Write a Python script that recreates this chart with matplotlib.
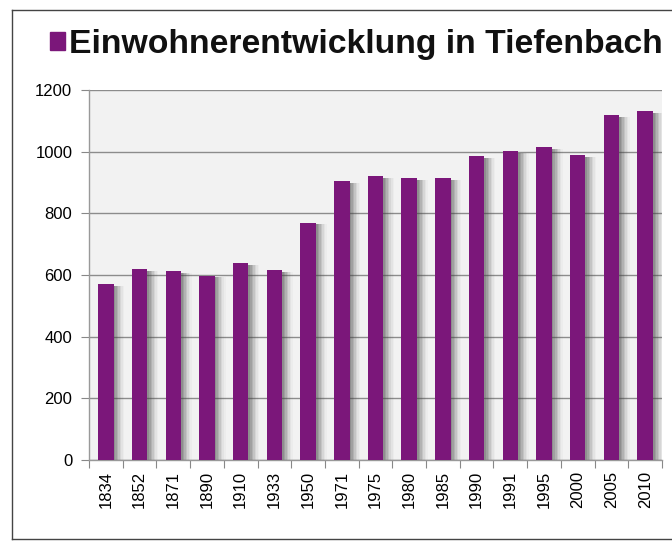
import matplotlib
matplotlib.use("Agg")
import matplotlib.pyplot as plt
from matplotlib.patches import Rectangle
from matplotlib.lines import Line2D
import numpy as np

years = ["1834", "1852", "1871", "1890", "1910", "1933", "1950", "1971", "1975",
         "1980", "1985", "1990", "1991", "1995", "2000", "2005", "2010"]
population = [571, 620, 613, 598, 638, 616, 770, 906, 921,
              914, 913, 986, 1001, 1016, 988, 1120, 1133]
yticks = [0, 200, 400, 600, 800, 1000, 1200]

W, H = 672, 541
fig = plt.figure(figsize=(W / 100, H / 100), dpi=100)
fig.patch.set_facecolor("white")

ax = fig.add_axes([89 / W, 1 - 460 / H, (662 - 89) / W, (460 - 90) / H])
ax.set_facecolor("#f2f2f2")

x = np.arange(len(years))
bw = 0.46
# soft shadow
for k, a in enumerate([0.18, 0.16, 0.14, 0.11, 0.08, 0.05, 0.03]):
    off = 0.05 + 0.045 * k
    ax.bar(x + off, [p - 6 for p in population], width=bw, color="#444444",
           alpha=a, zorder=2, linewidth=0)
ax.bar(x, population, width=bw, color="#7b177a", zorder=3, linewidth=0)

ax.set_xlim(-0.5, len(years) - 0.5)
ax.set_ylim(0, 1200)
ax.set_yticks(yticks)
ax.set_yticklabels([str(v) for v in yticks], fontsize=12, family="Liberation Sans")
ax.set_xticks(np.arange(len(years) + 1) - 0.5, minor=False)
ax.set_xticklabels([""] * (len(years) + 1))
ax.set_xticks(x, minor=True)
ax.set_xticklabels(years, minor=True, rotation=90, fontsize=12, family="Liberation Sans")
ax.tick_params(axis="x", which="minor", length=0, pad=8)
ax.tick_params(axis="x", which="major", length=6, color="#888888", direction="out")
ax.tick_params(axis="y", length=6, color="#888888", direction="out", pad=6)

ax.yaxis.grid(True, color="#8c8c8c", linewidth=1.0, zorder=1)
ax.set_axisbelow(True)
for s in ["top", "right"]:
    ax.spines[s].set_visible(False)
for s in ["left", "bottom"]:
    ax.spines[s].set_color("#999999")
    ax.spines[s].set_linewidth(1.0)

# title with purple square
fig.patches.append(Rectangle((50 / W, 1 - 50 / H), 15 / W, 18 / H,
                             transform=fig.transFigure, color="#7b177a"))
fig.text(69 / W, 1 - 53 / H, "Einwohnerentwicklung in Tiefenbach",
         fontsize=24.3, fontweight="bold", family="Liberation Sans",
         ha="left", va="baseline", color="#111111")

# outer frame
fc = "#444444"
fig.lines.append(Line2D([12 / W, 12 / W], [1 - 539 / H, 1 - 10 / H], transform=fig.transFigure,
                        color=fc, linewidth=1.0))
fig.lines.append(Line2D([12 / W, 1], [1 - 10 / H, 1 - 10 / H], transform=fig.transFigure,
                        color=fc, linewidth=1.0))
fig.lines.append(Line2D([12 / W, 1], [1 - 539 / H, 1 - 539 / H], transform=fig.transFigure,
                        color=fc, linewidth=1.0))

fig.savefig("out.png", dpi=100)
